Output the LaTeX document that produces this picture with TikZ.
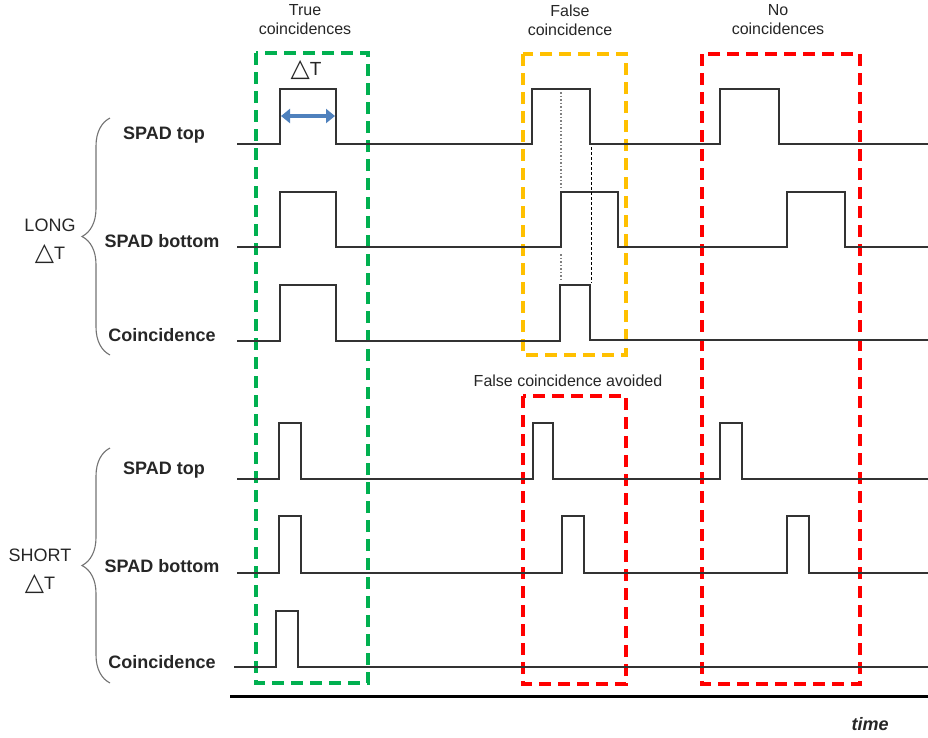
\documentclass[tikz,border=0pt]{standalone}
\usepackage{fontspec}
\setmainfont{Liberation Sans}
\newfontfamily\symfont{DejaVu Sans}
\usetikzlibrary{arrows.meta,decorations.pathreplacing}
\definecolor{boxgreen}{HTML}{00B050}
\definecolor{boxyellow}{HTML}{FFC000}
\definecolor{boxred}{HTML}{FF0000}
\definecolor{arrowblue}{HTML}{4F81BD}
\definecolor{txt}{HTML}{262626}
% open triangle used as the delta symbol
\newcommand{\deltri}{{\symfont\fontsize{25}{25}\selectfont\raisebox{-0.5pt}{△}}}
\begin{document}
\begin{tikzpicture}[x=1pt,y=-1pt,
  sig/.style={draw=black!80,line width=1.3pt,line join=miter},
  winbox/.style={dashed,line width=3.4pt,dash pattern=on 12pt off 7pt},
  rowlabel/.style={font=\fontsize{18}{20}\selectfont\bfseries,text=txt,inner sep=0pt},
  grouplabel/.style={font=\fontsize{18}{28}\selectfont,text=txt,align=center,inner sep=0pt},
  toplabel/.style={font=\fontsize{16}{19}\selectfont,text=txt,align=center,inner sep=0pt},
  grpbrace/.style={draw=black!55,line width=1.1pt,decorate,decoration={brace,amplitude=28pt}},
  guide/.style={line width=1.6pt}]
\useasboundingbox (0,0) rectangle (928,737);

% ---------- window boxes ----------
\draw[winbox,boxgreen]  (256,53) rectangle (368,683);
\draw[winbox,boxyellow] (523,54) rectangle (626,355);
\draw[winbox,boxred]    (702,54) rectangle (860,684);
\draw[winbox,boxred]    (523,396) rectangle (626,684);

% ---------- LONG delta-T signals ----------
\draw[sig] (237,144) -- (280,144) -- (280,89) -- (336,89) -- (336,144)
  -- (532,144) -- (532,89) -- (590,89) -- (590,144)
  -- (720,144) -- (720,89) -- (779,89) -- (779,144) -- (928,144);
\draw[sig] (237,247) -- (280,247) -- (280,192) -- (336,192) -- (336,247)
  -- (561,247) -- (561,192) -- (618,192) -- (618,247)
  -- (787,247) -- (787,192) -- (845,192) -- (845,247) -- (928,247);
\draw[sig] (237,341) -- (280,341) -- (280,285) -- (336,285) -- (336,341)
  -- (560,341) -- (560,285) -- (590,285) -- (590,340) -- (928,340);

% overlap guides
\draw[guide,black!50,dash pattern=on 1.5pt off 2pt] (561,92) -- (561,190);
\draw[guide,black!50,dash pattern=on 1.5pt off 2pt] (561,254) -- (561,281);
\draw[black,dash pattern=on 3pt off 2pt,line width=1pt] (591,147) -- (591,283);

% ---------- SHORT delta-T signals ----------
\draw[sig] (237,479) -- (279,479) -- (279,423) -- (301,423) -- (301,479)
  -- (533,479) -- (533,423) -- (553,423) -- (553,479)
  -- (720,479) -- (720,423) -- (742,423) -- (742,479) -- (928,479);
\draw[sig] (237,573) -- (279,573) -- (279,516) -- (301,516) -- (301,573)
  -- (562,573) -- (562,516) -- (584,516) -- (584,573)
  -- (787,573) -- (787,516) -- (809,516) -- (809,573) -- (928,573);
\draw[sig] (234,667) -- (276,667) -- (276,611) -- (298,611) -- (298,667) -- (928,667);

% ---------- pulse width arrow ----------
\coordinate (dtL) at (281,116);
\coordinate (dtR) at (335,116);
\draw[arrowblue,line width=4.5pt,{Triangle[width=14pt,length=9pt]}-{Triangle[width=14pt,length=9pt]}] (dtL) -- (dtR);
\node[font=\fontsize{19}{20}\selectfont,text=txt,inner sep=0pt] (dtlabel) at (306,70) {\deltri T};

% ---------- time axis ----------
\coordinate (axL) at (230,696);
\coordinate (axR) at (928,696);
\draw[line width=3pt,black] (axL) -- (axR);
\node[font=\fontsize{18}{20}\selectfont\bfseries\itshape,text=txt,inner sep=0pt] (timelabel) at (870,724) {time};

% ---------- column headings ----------
\node[toplabel] (hTrue)  at (305,20) {True\\coincidences};
\node[toplabel] (hFalse) at (570,20) {False\\coincidence};
\node[toplabel] (hNo)    at (778,20) {No\\coincidences};
\node[toplabel] (hAvoid) at (568,381) {False coincidence avoided};

% ---------- row labels ----------
\node[rowlabel] (lTop)  at (164,135) {SPAD top};
\node[rowlabel] (lBot)  at (162,241) {SPAD bottom};
\node[rowlabel] (lCoin) at (162,335) {Coincidence};
\node[rowlabel] (sTop)  at (164,470) {SPAD top};
\node[rowlabel] (sBot)  at (162,566) {SPAD bottom};
\node[rowlabel] (sCoin) at (162,662) {Coincidence};

% ---------- group braces ----------
\draw[grpbrace] (110,355) -- (110,118);
\draw[grpbrace] (110,683) -- (110,448);
\node[grouplabel] (gLong)  at (50,241) {LONG\\\deltri T};
\node[grouplabel] (gShort) at (40,571) {SHORT\\\deltri T};
\end{tikzpicture}
\end{document}
